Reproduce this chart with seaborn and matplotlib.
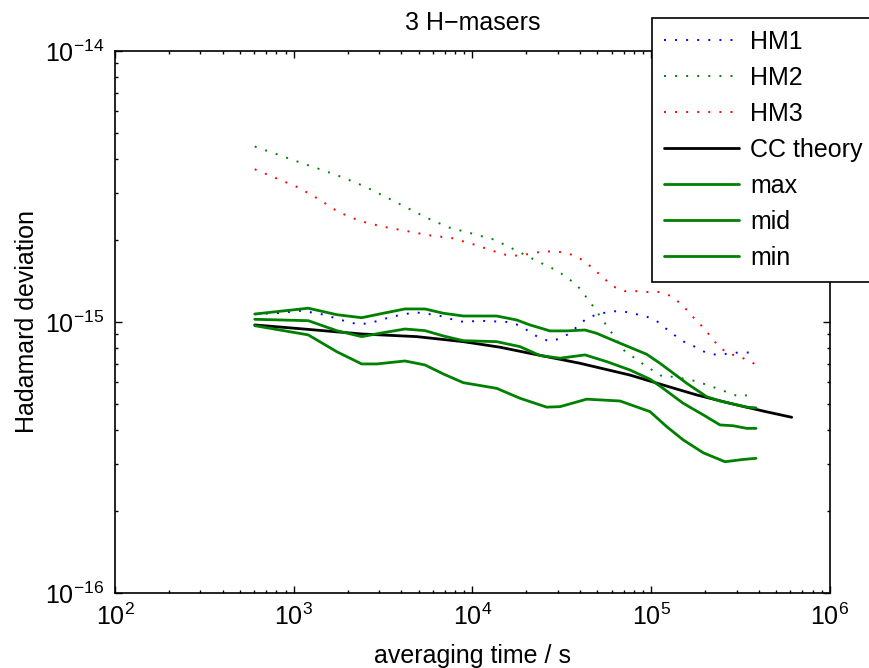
import numpy as np
import pandas as pd
import matplotlib
matplotlib.use('Agg')
import matplotlib.pyplot as plt
import matplotlib.ticker as mticker
import seaborn as sns

# averaging times (s) and Hadamard deviations
tau_hm1 = [605, 820, 1108, 1476, 1978, 2288, 2647, 3545, 4769, 6387, 8546, 11600,
           15600, 18040, 20520, 23340, 26900, 30990, 35430, 39430, 44450, 51210,
           59530, 69220, 80100, 93110, 106700, 119800, 135300, 153100, 175000,
           200600, 232400, 268800, 314900, 380000]
hm1 = [1.068, 1.079, 1.101, 1.064, 1.003, 0.981, 0.989, 1.046, 1.086, 1.059, 1.003,
       1.009, 1.000, 0.975, 0.927, 0.878, 0.849, 0.868, 0.913, 0.977, 1.041, 1.070,
       1.095, 1.095, 1.073, 1.050, 1.011, 0.950, 0.893, 0.844, 0.811, 0.773, 0.756,
       0.764, 0.773, 0.770]

tau_hm2 = [605, 803, 1070, 1421, 1893, 2504, 3282, 4300, 5637, 7419, 9936, 13310,
           17450, 22870, 29980, 38280, 46030, 54620, 70700, 90290, 115900, 134100,
           179600, 236300, 310900, 380000]
hm2 = [4.44, 4.16, 3.89, 3.65, 3.41, 3.16, 2.89, 2.64, 2.41, 2.23, 2.12, 2.01, 1.84,
       1.68, 1.543, 1.373, 1.172, 0.997, 0.784, 0.698, 0.628, 0.628, 0.604, 0.567,
       0.530, 0.544]

tau_hm3 = [605, 799, 1056, 1379, 1769, 2339, 3129, 4208, 5689, 7651, 10230, 13660,
           15800, 18440, 21330, 24800, 28840, 33350, 38580, 43550, 49090, 54900,
           61650, 70700, 81850, 94670, 110100, 127800, 143500, 159900, 176400,
           194800, 215100, 237200, 268800, 310900, 380000]
hm3 = [3.66, 3.39, 3.14, 2.84, 2.55, 2.36, 2.25, 2.17, 2.09, 2.04, 1.93, 1.81, 1.76,
       1.757, 1.79, 1.82, 1.82, 1.80, 1.74, 1.65, 1.54, 1.44, 1.35, 1.30, 1.30, 1.29,
       1.29, 1.25, 1.18, 1.10, 1.02, 0.956, 0.883, 0.816, 0.764, 0.747, 0.700]

tau_cc = [605, 1182, 2399, 4874, 8882, 14250, 20980, 39940, 76050, 116800, 179600,
          275800, 423600, 610600]
cc = [0.975, 0.940, 0.903, 0.883, 0.846, 0.807, 0.766, 0.704, 0.637, 0.585, 0.538,
      0.501, 0.469, 0.445]

tau_max = [605, 1206, 1739, 2399, 3170, 4192, 5424, 6866, 8882, 13660, 17680, 20980,
           27140, 33650, 42600, 49530, 66880, 94320, 111900, 132900, 157900, 204300,
           242400, 287700, 342000, 385500]
g_max = [1.070, 1.124, 1.064, 1.037, 1.077, 1.117, 1.117, 1.077, 1.052, 1.052, 1.017,
         0.975, 0.927, 0.927, 0.934, 0.908, 0.835, 0.760, 0.704, 0.647, 0.594, 0.530,
         0.511, 0.498, 0.485, 0.482]

tau_mid = [605, 1206, 1739, 2399, 3170, 4192, 5424, 6866, 8882, 13660, 18440, 23860,
           30870, 42600, 56340, 76050, 98400, 114400, 151100, 195600, 242400, 287700,
           342000, 385500]
g_mid = [1.023, 1.011, 0.929, 0.883, 0.913, 0.942, 0.929, 0.888, 0.853, 0.846, 0.811,
         0.752, 0.735, 0.756, 0.714, 0.665, 0.615, 0.574, 0.501, 0.454, 0.417, 0.414,
         0.405, 0.405]

tau_min = [605, 1206, 1739, 2399, 2912, 4192, 5424, 6866, 8882, 13660, 18440, 26010,
           30870, 43550, 66880, 98400, 122000, 151100, 195600, 258600, 327300, 385500]
g_min = [0.969, 0.896, 0.777, 0.700, 0.700, 0.718, 0.694, 0.643, 0.597, 0.569, 0.523,
         0.485, 0.487, 0.519, 0.511, 0.467, 0.411, 0.367, 0.329, 0.305, 0.311, 0.314]

x_ticks = [1e2, 1e3, 1e4, 1e5, 1e6]
y_ticks = [1e-16, 1e-15, 1e-14]

sns.set_style('white', {'xtick.bottom': True, 'ytick.left': True,
                        'text.color': 'black', 'axes.labelcolor': 'black',
                        'xtick.color': 'black', 'ytick.color': 'black',
                        'axes.edgecolor': 'black'})
plt.rcParams['font.family'] = ['Liberation Sans', 'DejaVu Sans']
plt.rcParams['mathtext.fontset'] = 'custom'
plt.rcParams['mathtext.rm'] = 'Liberation Sans'
plt.rcParams['mathtext.it'] = 'Liberation Sans:italic'
plt.rcParams['mathtext.default'] = 'regular'

fig = plt.figure(figsize=(8.7, 6.68), dpi=100)
ax = fig.add_axes([0.1322, 0.1123, 0.8218, 0.8114])

dot = (0, (1, 4.7))
series = [
    ('HM1', tau_hm1, hm1, 'blue', dot, 1.4),
    ('HM2', tau_hm2, hm2, (0, 0.5, 0), dot, 1.4),
    ('HM3', tau_hm3, hm3, 'red', dot, 1.4),
    ('CC theory', tau_cc, cc, 'black', '-', 2.0),
    ('max', tau_max, g_max, (0, 0.5, 0), '-', 2.0),
    ('mid', tau_mid, g_mid, (0, 0.5, 0), '-', 2.0),
    ('min', tau_min, g_min, (0, 0.5, 0), '-', 2.0),
]
for name, t, v, c, ls, lw in series:
    df = pd.DataFrame({'tau': t, 'dev': np.array(v) * 1e-15})
    sns.lineplot(data=df, x='tau', y='dev', ax=ax, color=c, linestyle=ls, lw=lw,
                 label=name, sort=False, estimator=None)

ax.set(xscale='log', yscale='log')
ax.set_xticks(x_ticks)
ax.set_yticks(y_ticks)
ax.set_xlim(1e2, 1e6)
ax.set_ylim(1e-16, 1e-14)
ax.xaxis.set_minor_locator(mticker.LogLocator(base=10, subs=np.arange(2, 10)))
ax.yaxis.set_minor_locator(mticker.LogLocator(base=10, subs=np.arange(2, 10)))
ax.xaxis.set_minor_formatter(mticker.NullFormatter())
ax.yaxis.set_minor_formatter(mticker.NullFormatter())

fs = 18
ax.set_title('3 H\u2212masers', fontsize=fs, pad=15)
ax.set_xlabel('averaging time / s', fontsize=fs, labelpad=10)
ax.set_ylabel('Hadamard deviation', fontsize=fs, labelpad=4)
ax.tick_params(which='both', direction='in', top=True, right=True, bottom=True,
               left=True, labelsize=fs, width=1, colors='black')
ax.tick_params(which='major', length=5, pad=8)
ax.tick_params(which='minor', length=2.5)
for s in ax.spines.values():
    s.set_linewidth(1.2)
    s.set_color('black')

leg = ax.legend(loc='upper left', bbox_to_anchor=(652 / 870, 1 - 18 / 668),
                bbox_transform=fig.transFigure, fontsize=fs, frameon=True,
                fancybox=False, framealpha=1, edgecolor='black', borderaxespad=0,
                handlelength=3.0, labelspacing=0.48, borderpad=0.47,
                handletextpad=0.45)
leg.get_frame().set_linewidth(1.2)

fig.savefig('out.png', dpi=100)
